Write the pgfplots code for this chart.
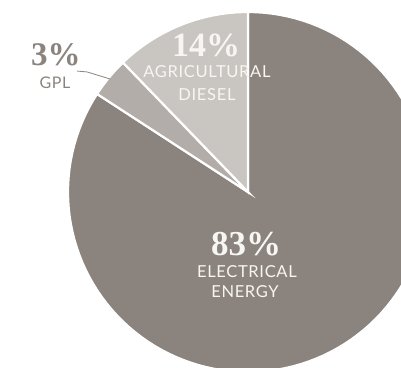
\documentclass[border=0pt]{standalone}
\usepackage{pgfplots}
\pgfplotsset{compat=1.18}
\usepackage{fontspec}
\setmainfont{Lato}
\newfontfamily\labfont[LetterSpace=4]{Lato}
\newfontfamily\numfont{Liberation Serif}
\definecolor{elec}{RGB}{139,131,125}
\definecolor{gpl}{RGB}{178,173,168}
\definecolor{diesel}{RGB}{201,197,192}
\definecolor{txt}{RGB}{248,246,243}
\begin{document}
\begin{tikzpicture}
\begin{axis}[
  name=pie,
  width=401pt, height=367pt, scale only axis,
  xmin=-1.3778, xmax=0.85, ymin=-0.9722, ymax=1.0667,
  axis lines=none, clip=true,
  ticks=none,
]
% slices: Agricultural diesel 14%, GPL 3%, Electrical energy 83% (angles as drawn)
\addplot[fill=elec, draw=white, line width=2.2pt, domain=147:450, samples=120, variable=\t]
  ({cos(\t)},{sin(\t)}) -- (axis cs:0,0) -- cycle;
\addplot[fill=gpl, draw=white, line width=2.2pt, domain=134:147, samples=10, variable=\t]
  ({cos(\t)},{sin(\t)}) -- (axis cs:0,0) -- cycle;
\addplot[fill=diesel, draw=white, line width=2.2pt, domain=90:134, samples=30, variable=\t]
  ({cos(\t)},{sin(\t)}) -- (axis cs:0,0) -- cycle;
% leader line for GPL
\draw[elec, line width=0.8pt] (axis cs:-0.95,0.672) -- (axis cs:-0.894,0.667) -- (axis cs:-0.767,0.628);
% labels
\node[txt, font=\numfont\bfseries\fontsize{34}{34}\selectfont] at (axis cs:-0.233,0.815) {14\%};
\node[txt, font=\labfont\fontsize{16.5}{16.5}\selectfont] at (axis cs:-0.228,0.667) {AGRICULTURAL};
\node[txt, font=\labfont\fontsize{16.5}{16.5}\selectfont] at (axis cs:-0.228,0.539) {DIESEL};
\node[elec, font=\numfont\bfseries\fontsize{33}{33}\selectfont] at (axis cs:-1.067,0.765) {3\%};
\node[elec, font=\labfont\fontsize{16}{16}\selectfont] at (axis cs:-1.072,0.606) {GPL};
\node[txt, font=\numfont\bfseries\fontsize{35}{35}\selectfont] at (axis cs:-0.011,-0.289) {83\%};
\node[txt, font=\labfont\fontsize{16.5}{16.5}\selectfont] at (axis cs:-0.006,-0.444) {ELECTRICAL};
\node[txt, font=\labfont\fontsize{16.5}{16.5}\selectfont] at (axis cs:-0.017,-0.556) {ENERGY};
\end{axis}
\pgfresetboundingbox
\useasboundingbox (pie.south west) rectangle (pie.north east);
\end{tikzpicture}
\end{document}
